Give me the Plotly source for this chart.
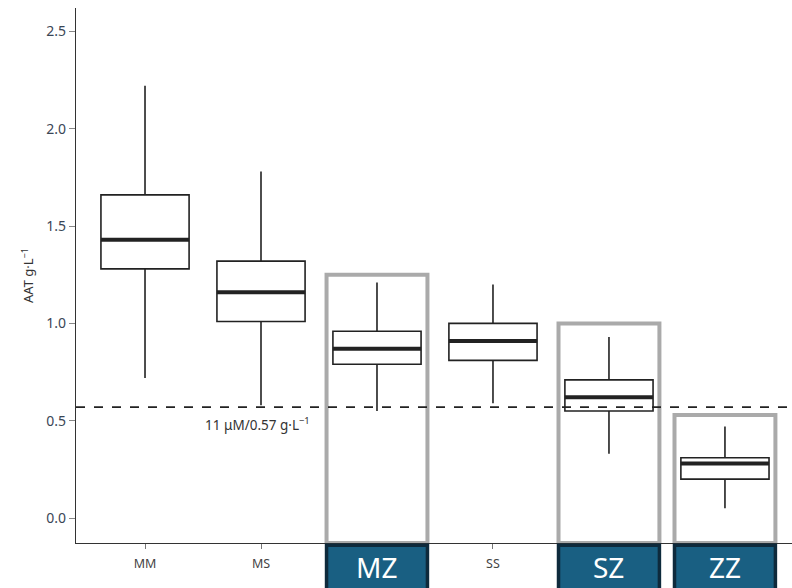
import plotly.graph_objects as go

# Genotype groups and their AAT serum level summaries (g/L)
genotypes = ["MM", "MS", "MZ", "SS", "SZ", "ZZ"]
upper_whisker = [2.22, 1.78, 1.21, 1.20, 0.93, 0.47]
q3_values = [1.66, 1.32, 0.96, 1.00, 0.71, 0.31]
medians = [1.43, 1.16, 0.87, 0.91, 0.62, 0.28]
q1_values = [1.28, 1.01, 0.79, 0.81, 0.55, 0.20]
lower_whisker = [0.72, 0.58, 0.55, 0.59, 0.33, 0.05]

# Genotypes flagged as at-risk, with the height of the outline frame
highlighted = ["MZ", "SZ", "ZZ"]
frame_tops = [1.25, 1.00, 0.53]

threshold = 0.57
threshold_label = "11 μM/0.57 g·L<sup>−1</sup>"

positions = list(range(len(genotypes)))
y_min, y_max = -0.128, 2.62
box_half = 0.38
frame_half = 0.435

fig = go.Figure()

fig.add_trace(go.Box(
    x=positions,
    q1=q1_values,
    median=medians,
    q3=q3_values,
    lowerfence=lower_whisker,
    upperfence=upper_whisker,
    width=box_half * 2,
    whiskerwidth=0,
    fillcolor="white",
    line=dict(color="#222222", width=1.6),
    boxpoints=False,
    showlegend=False,
    hoverinfo="skip",
))

shapes = []

# Heavy median bars
for x, m in zip(positions, medians):
    shapes.append(dict(type="line", xref="x", yref="y",
                       x0=x - box_half, x1=x + box_half, y0=m, y1=m,
                       line=dict(color="#222222", width=4), layer="above"))

# Threshold line
shapes.append(dict(type="line", xref="paper", yref="y", x0=0, x1=1,
                   y0=threshold, y1=threshold,
                   line=dict(color="#222222", width=1.6, dash="dash"),
                   layer="above"))

annotations = []

for g, top in zip(highlighted, frame_tops):
    x = genotypes.index(g)
    # Grey outline frame
    shapes.append(dict(type="rect", xref="x", yref="y",
                       x0=x - frame_half, x1=x + frame_half,
                       y0=y_min, y1=top,
                       line=dict(color="#aaaaaa", width=4),
                       fillcolor="rgba(0,0,0,0)", layer="below"))
    # Dark label tab under the axis
    shapes.append(dict(type="rect", xref="x", yref="paper",
                       x0=x - frame_half, x1=x + frame_half,
                       y0=-0.092, y1=-0.004,
                       line=dict(color="#0e2a3c", width=3.5),
                       fillcolor="#195f82", layer="above"))
    annotations.append(dict(x=x, y=-0.044, xref="x", yref="paper",
                            text=g, showarrow=False,
                            font=dict(family="Noto Sans", size=28, color="white"),
                            xanchor="center", yanchor="middle"))

# Plain category labels
plain = [g for g in genotypes if g not in highlighted]

annotations.append(dict(x=positions[0] + 0.5, y=0.485, xref="x", yref="y",
                        text=threshold_label, showarrow=False,
                        xanchor="left", yanchor="middle",
                        font=dict(family="Noto Sans", size=13.5, color="#333333")))

fig.update_layout(
    width=792, height=588,
    margin=dict(l=76, r=0, t=8, b=45),
    paper_bgcolor="white", plot_bgcolor="white",
    font=dict(family="Noto Sans", color="#333333"),
    shapes=shapes,
    annotations=annotations,
    xaxis=dict(
        range=[-0.595, 5.578],
        tickmode="array",
        tickvals=[genotypes.index(g) for g in plain],
        ticktext=plain,
        ticks="outside", ticklen=5, tickcolor="#777777",
        ticklabelstandoff=4,
        tickfont=dict(size=12.5, color="#444444"),
        showline=True, linecolor="#333333", linewidth=1.2,
        showgrid=False, zeroline=False,
    ),
    yaxis=dict(
        range=[y_min, y_max],
        tickvals=[0.0, 0.5, 1.0, 1.5, 2.0, 2.5],
        ticktext=["0.0", "0.5", "1.0", "1.5", "2.0", "2.5"],
        ticks="outside", ticklen=6, tickcolor="#888888",
        tickfont=dict(size=14, color="#3a4656"),
        showline=True, linecolor="#333333", linewidth=1.2,
        showgrid=False, zeroline=False,
        title=dict(text="AAT g·L<sup>−1</sup>", standoff=9,
                   font=dict(size=13, color="#333333")),
    ),
)

fig.write_html("out.html")
